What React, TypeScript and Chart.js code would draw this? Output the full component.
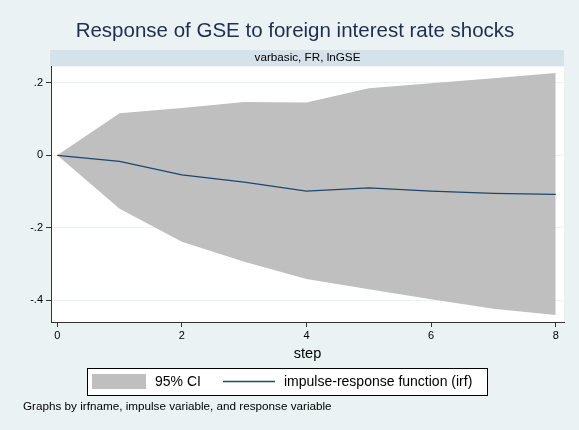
import React, { useEffect, useRef } from "react";
import { Chart, registerables } from "chart.js";

Chart.register(...registerables);

const steps = [0, 1, 2, 3, 4, 5, 6, 7, 8];
const irf = [0, -0.017, -0.054, -0.074, -0.099, -0.09, -0.099, -0.105, -0.108];
const ciUpper = [0, 0.116, 0.131, 0.147, 0.146, 0.185, 0.199, 0.213, 0.227];
const ciLower = [0, -0.148, -0.239, -0.294, -0.342, -0.37, -0.398, -0.424, -0.441];
const xTicks = [0, 2, 4, 6, 8];
const yTicks = [-0.4, -0.2, 0, 0.2];

const titleText = "Response of GSE to foreign interest rate shocks";
const stripText = "varbasic, FR, lnGSE";
const xTitle = "step";
const noteText = "Graphs by irfname, impulse variable, and response variable";
const ciLabel = "95% CI";
const irfLabel = "impulse-response function (irf)";

const FONT = '"Liberation Sans", Arial, Helvetica, sans-serif';
const BG = "#eaf2f3";
const STRIP = "#d6e2e9";
const CI_FILL = "#bfbfbf";
const IRF_COLOR = "#1a476f";
const AXIS = "#333333";

const fmtY = (v: number) => {
  if (Math.abs(v) < 1e-9) return "0";
  const s = (Math.round(v * 10) / 10).toFixed(1);
  return s.replace("0.", ".");
};

const decor = {
  id: "decor",
  beforeDraw(chart: any) {
    const { ctx, chartArea: a, width, height } = chart;
    ctx.save();
    ctx.fillStyle = BG;
    ctx.fillRect(0, 0, width, height);
    // strip
    ctx.fillStyle = STRIP;
    ctx.fillRect(a.left - 1, 50, a.right - a.left + 1, a.top - 50);
    // plot region
    ctx.fillStyle = "#ffffff";
    ctx.fillRect(a.left, a.top, a.right - a.left, a.bottom - a.top);
    // title
    ctx.textAlign = "center";
    ctx.textBaseline = "middle";
    ctx.fillStyle = "#1e2d50";
    ctx.font = `20.5px ${FONT}`;
    ctx.fillText(titleText, 295, 31);
    // strip text
    ctx.fillStyle = "#000000";
    ctx.font = `11.7px ${FONT}`;
    ctx.fillText(stripText, (a.left + a.right) / 2, 58);
    ctx.restore();
  },
  afterDraw(chart: any) {
    const { ctx } = chart;
    const ds = chart.data.datasets;
    ctx.save();
    // legend box
    ctx.fillStyle = "#ffffff";
    ctx.fillRect(87.5, 368.5, 400, 27);
    ctx.strokeStyle = "#000000";
    ctx.lineWidth = 1;
    ctx.strokeRect(87.5, 368.5, 400, 27);
    // CI swatch
    ctx.fillStyle = ds[1].backgroundColor;
    ctx.fillRect(92, 374, 54, 15);
    ctx.fillStyle = "#000000";
    ctx.font = `14px ${FONT}`;
    ctx.textAlign = "left";
    ctx.textBaseline = "middle";
    ctx.fillText(ds[1].label, 155, 382);
    // irf line swatch
    ctx.strokeStyle = ds[0].borderColor;
    ctx.lineWidth = 1.3;
    ctx.beginPath();
    ctx.moveTo(223, 381.5);
    ctx.lineTo(275, 381.5);
    ctx.stroke();
    ctx.fillText(ds[0].label, 284, 382);
    // note
    ctx.font = `11.7px ${FONT}`;
    ctx.fillText(noteText, 23, 407);
    ctx.restore();
  },
};

export default function App() {
  const ref = useRef<HTMLCanvasElement | null>(null);

  useEffect(() => {
    if (!ref.current) return;
    const chart = new Chart(ref.current, {
      type: "line",
      data: {
        datasets: [
          {
            label: irfLabel,
            data: steps.map((s, i) => ({ x: s, y: irf[i] })),
            borderColor: IRF_COLOR,
            borderWidth: 1.3,
            pointRadius: 0,
            tension: 0,
            fill: false,
          },
          {
            label: ciLabel,
            data: steps.map((s, i) => ({ x: s, y: ciUpper[i] })),
            backgroundColor: CI_FILL,
            borderColor: "rgba(0,0,0,0)",
            borderWidth: 0,
            pointRadius: 0,
            tension: 0,
            fill: "+1",
          },
          {
            label: "ci lower",
            data: steps.map((s, i) => ({ x: s, y: ciLower[i] })),
            backgroundColor: CI_FILL,
            borderColor: "rgba(0,0,0,0)",
            borderWidth: 0,
            pointRadius: 0,
            tension: 0,
            fill: false,
          },
        ],
      },
      options: {
        responsive: false,
        animation: false,
        layout: { padding: { left: 0, right: 15, top: 66.5, bottom: 0 } },
        plugins: {
          legend: { display: false },
          title: { display: false },
          tooltip: { enabled: false },
        },
        scales: {
          x: {
            type: "linear",
            min: -0.101,
            max: 8.133,
            afterBuildTicks: (s: any) => {
              s.ticks = xTicks.map((v) => ({ value: v }));
            },
            afterFit: (s: any) => {
              s.height = 108;
            },
            grid: {
              drawOnChartArea: false,
              tickLength: 5,
              color: AXIS,
              tickColor: AXIS,
            },
            border: { color: AXIS, width: 1 },
            ticks: {
              font: { family: FONT, size: 11 },
              color: "#000000",
              padding: 2,
              maxRotation: 0,
              autoSkip: false,
              callback: (v: any) => String(v),
            },
            title: {
              display: true,
              text: xTitle,
              color: "#000000",
              font: { family: FONT, size: 14.5 },
              padding: { top: 0, bottom: 67 },
            },
          },
          y: {
            type: "linear",
            min: -0.4605,
            max: 0.2453,
            afterBuildTicks: (s: any) => {
              s.ticks = yTicks.map((v) => ({ value: v }));
            },
            afterFit: (s: any) => {
              s.width = 51;
            },
            grid: {
              color: BG,
              tickColor: AXIS,
              tickLength: 5,
              lineWidth: 1,
            },
            border: { color: AXIS, width: 1 },
            ticks: {
              font: { family: FONT, size: 11 },
              color: "#000000",
              padding: 3,
              autoSkip: false,
              callback: (v: any) => fmtY(Number(v)),
            },
          },
        },
      },
      plugins: [decor],
    } as any);
    return () => chart.destroy();
  }, []);

  return (
    <div style={{ position: "fixed", left: 0, top: 0, width: 579, height: 430 }}>
      <canvas ref={ref} width={579} height={430} style={{ display: "block" }} />
    </div>
  );
}
